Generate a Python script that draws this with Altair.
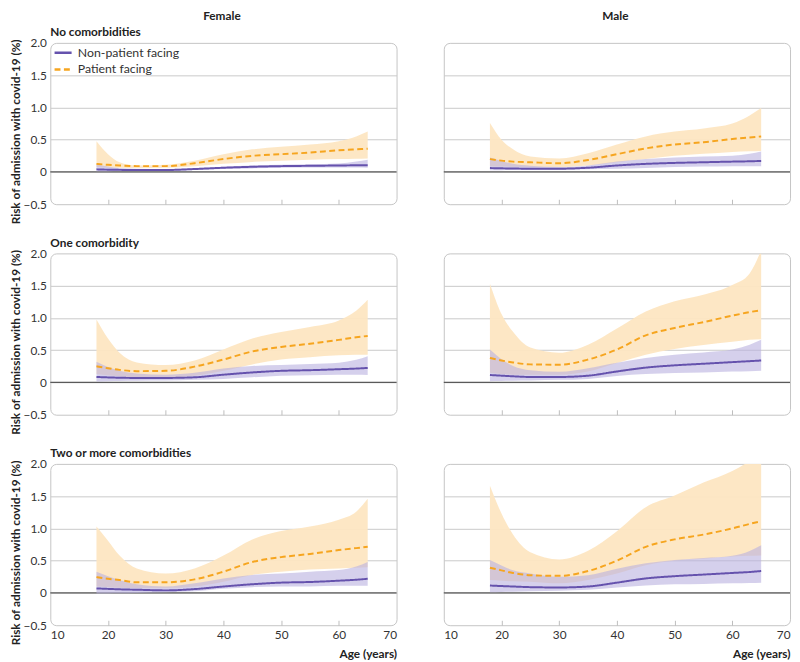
import altair as alt
import pandas as pd

FONT = "Lato"
W, H = 352, 164

ages = [18, 20, 22, 25, 30, 35, 40, 45, 50, 55, 60, 63, 65]
sexes = ["Female", "Male"]
row_titles = ["No comorbidities", "One comorbidity", "Two or more comorbidities"]
groups = ["Non-patient facing", "Patient facing"]
x_ticks = [10, 20, 30, 40, 50, 60, 70]
y_ticks = [-0.5, 0, 0.5, 1.0, 1.5, 2.0]
y_title = "Risk of admission with covid-19 (%)"

# ---- Female, no comorbidities
f0_pf_mid = [0.125, 0.11, 0.10, 0.09, 0.09, 0.135, 0.2, 0.25, 0.275, 0.30, 0.335, 0.35, 0.36]
f0_pf_hi = [0.475, 0.275, 0.15, 0.10, 0.11, 0.175, 0.275, 0.35, 0.39, 0.425, 0.475, 0.55, 0.625]
f0_pf_lo = [0.075, 0.07, 0.065, 0.06, 0.065, 0.09, 0.125, 0.155, 0.175, 0.19, 0.2, 0.205, 0.21]
f0_np_mid = [0.04, 0.035, 0.032, 0.03, 0.03, 0.045, 0.065, 0.08, 0.09, 0.095, 0.10, 0.103, 0.105]
f0_np_hi = [0.12, 0.085, 0.06, 0.05, 0.045, 0.06, 0.08, 0.10, 0.11, 0.12, 0.13, 0.16, 0.19]
f0_np_lo = [0.01, 0.012, 0.013, 0.014, 0.015, 0.03, 0.045, 0.055, 0.065, 0.068, 0.07, 0.068, 0.065]
# ---- Male, no comorbidities
m0_pf_mid = [0.2, 0.175, 0.16, 0.15, 0.135, 0.185, 0.275, 0.365, 0.425, 0.46, 0.51, 0.535, 0.55]
m0_pf_hi = [0.76, 0.5, 0.35, 0.24, 0.21, 0.29, 0.425, 0.55, 0.625, 0.675, 0.75, 0.875, 0.99]
m0_pf_lo = [0.09, 0.085, 0.08, 0.075, 0.075, 0.1, 0.15, 0.2, 0.25, 0.28, 0.31, 0.32, 0.325]
m0_np_mid = [0.06, 0.056, 0.053, 0.05, 0.05, 0.065, 0.1, 0.125, 0.14, 0.15, 0.16, 0.165, 0.17]
m0_np_hi = [0.225, 0.17, 0.125, 0.095, 0.075, 0.1, 0.16, 0.2, 0.225, 0.24, 0.25, 0.28, 0.315]
m0_np_lo = [0.025, 0.028, 0.03, 0.033, 0.035, 0.04, 0.05, 0.062, 0.075, 0.083, 0.09, 0.09, 0.09]
# ---- Female, one comorbidity
f1_pf_mid = [0.25, 0.22, 0.195, 0.175, 0.18, 0.245, 0.355, 0.48, 0.55, 0.6, 0.66, 0.7, 0.72]
f1_pf_hi = [0.975, 0.68, 0.46, 0.31, 0.27, 0.34, 0.51, 0.68, 0.78, 0.86, 0.96, 1.11, 1.28]
f1_pf_lo = [0.13, 0.11, 0.095, 0.08, 0.08, 0.105, 0.18, 0.28, 0.355, 0.39, 0.42, 0.428, 0.43]
f1_np_mid = [0.085, 0.078, 0.073, 0.07, 0.07, 0.08, 0.12, 0.155, 0.18, 0.19, 0.205, 0.215, 0.225]
f1_np_hi = [0.32, 0.24, 0.18, 0.14, 0.12, 0.15, 0.215, 0.255, 0.27, 0.285, 0.305, 0.35, 0.405]
f1_np_lo = [0.015, 0.02, 0.024, 0.027, 0.03, 0.04, 0.055, 0.08, 0.105, 0.113, 0.12, 0.118, 0.115]
# ---- Male, one comorbidity
m1_pf_mid = [0.38, 0.34, 0.31, 0.28, 0.275, 0.355, 0.51, 0.73, 0.845, 0.935, 1.035, 1.09, 1.12]
m1_pf_hi = [1.53, 1.06, 0.785, 0.54, 0.46, 0.585, 0.835, 1.1, 1.26, 1.36, 1.51, 1.69, 2.05]
m1_pf_lo = [0.15, 0.13, 0.12, 0.12, 0.12, 0.17, 0.3, 0.43, 0.52, 0.58, 0.63, 0.66, 0.67]
m1_np_mid = [0.115, 0.105, 0.095, 0.085, 0.085, 0.105, 0.17, 0.23, 0.265, 0.29, 0.315, 0.33, 0.34]
m1_np_hi = [0.51, 0.36, 0.255, 0.19, 0.165, 0.22, 0.305, 0.38, 0.43, 0.465, 0.51, 0.585, 0.66]
m1_np_lo = [0.02, 0.024, 0.027, 0.03, 0.04, 0.055, 0.1, 0.13, 0.145, 0.155, 0.17, 0.175, 0.18]
# ---- Female, two or more comorbidities
f2_pf_mid = [0.245, 0.22, 0.2, 0.165, 0.165, 0.21, 0.33, 0.48, 0.555, 0.605, 0.665, 0.695, 0.715]
f2_pf_hi = [1.03, 0.81, 0.58, 0.38, 0.30, 0.38, 0.58, 0.83, 0.96, 1.03, 1.135, 1.26, 1.46]
f2_pf_lo = [0.1, 0.09, 0.08, 0.075, 0.075, 0.1, 0.175, 0.28, 0.33, 0.365, 0.38, 0.39, 0.4]
f2_np_mid = [0.07, 0.063, 0.056, 0.05, 0.04, 0.06, 0.1, 0.135, 0.16, 0.17, 0.19, 0.205, 0.22]
f2_np_hi = [0.33, 0.26, 0.2, 0.135, 0.1, 0.15, 0.225, 0.28, 0.3, 0.33, 0.355, 0.41, 0.48]
f2_np_lo = [-0.01, -0.007, -0.004, 0.0, 0.01, 0.025, 0.065, 0.09, 0.1, 0.1, 0.11, 0.11, 0.11]
# ---- Male, two or more comorbidities
m2_pf_mid = [0.39, 0.35, 0.31, 0.275, 0.265, 0.34, 0.5, 0.715, 0.83, 0.905, 1.0, 1.07, 1.11]
m2_pf_hi = [1.66, 1.23, 0.905, 0.63, 0.52, 0.655, 0.955, 1.33, 1.51, 1.71, 1.89, 2.05, 2.2]
m2_pf_lo = [0.2, 0.19, 0.18, 0.175, 0.15, 0.2, 0.3, 0.43, 0.5, 0.53, 0.565, 0.575, 0.58]
m2_np_mid = [0.115, 0.107, 0.1, 0.09, 0.085, 0.1, 0.16, 0.225, 0.26, 0.285, 0.31, 0.325, 0.34]
m2_np_hi = [0.51, 0.425, 0.35, 0.3, 0.25, 0.275, 0.375, 0.46, 0.51, 0.54, 0.575, 0.65, 0.74]
m2_np_lo = [0.01, 0.015, 0.02, 0.025, 0.035, 0.05, 0.085, 0.115, 0.135, 0.14, 0.15, 0.155, 0.16]

series = {
    ("Female", 0): (f0_np_mid, f0_np_lo, f0_np_hi, f0_pf_mid, f0_pf_lo, f0_pf_hi),
    ("Male", 0): (m0_np_mid, m0_np_lo, m0_np_hi, m0_pf_mid, m0_pf_lo, m0_pf_hi),
    ("Female", 1): (f1_np_mid, f1_np_lo, f1_np_hi, f1_pf_mid, f1_pf_lo, f1_pf_hi),
    ("Male", 1): (m1_np_mid, m1_np_lo, m1_np_hi, m1_pf_mid, m1_pf_lo, m1_pf_hi),
    ("Female", 2): (f2_np_mid, f2_np_lo, f2_np_hi, f2_pf_mid, f2_pf_lo, f2_pf_hi),
    ("Male", 2): (m2_np_mid, m2_np_lo, m2_np_hi, m2_pf_mid, m2_pf_lo, m2_pf_hi),
}

PURPLE = "#6552ad"
ORANGE = "#f6a51f"
BAND_PU = "#b9b0e0"
BAND_OR = "#fde6c2"
GRID = "#c9c9c9"
TXT = "#222222"

color_scale = alt.Scale(domain=groups, range=[PURPLE, ORANGE])
dash_scale = alt.Scale(domain=groups, range=[[1, 0], [6, 3.5]])
x_scale = alt.Scale(domain=[10, 70], nice=False, zero=False)
y_scale = alt.Scale(domain=[-0.5, 2.0], nice=False)

hide_edges_grid = {"condition": {"test": "datum.value == 2 || datum.value == -0.5", "value": 0}, "value": 1}
hide_edges_tick = {"condition": {"test": "datum.value == 10 || datum.value == 70", "value": 0}, "value": 1}


def make_df(sex, r):
    np_mid, np_lo, np_hi, pf_mid, pf_lo, pf_hi = series[(sex, r)]
    rows = []
    for i, a in enumerate(ages):
        rows.append({"age": a, "group": groups[0], "mid": np_mid[i], "lo": np_lo[i], "hi": np_hi[i]})
    for i, a in enumerate(ages):
        rows.append({"age": a, "group": groups[1], "mid": pf_mid[i], "lo": pf_lo[i], "hi": pf_hi[i]})
    return pd.DataFrame(rows)


def panel(sex, r):
    left = sex == "Female"
    bottom = r == 2
    d = make_df(sex, r)

    # identical axis in both columns (invisible on the right) so every row lines up
    yaxis = alt.Axis(values=y_ticks, grid=True, gridColor=GRID, gridOpacity=hide_edges_grid,
                     ticks=False, domain=False, labelOverlap=False,
                     labelExpr="datum.value == 0 ? '0' : format(datum.value, '.1f')",
                     labelFontSize=12, labelColor="#333333", labelPadding=4,
                     labelOpacity=1 if left else 0,
                     title=y_title, titleFontSize=12, titleFontWeight="bold", titleColor=TXT,
                     titleOpacity=1 if left else 0, titlePadding=1, titleY=H / 2 + 8)

    common_x = dict(values=x_ticks, grid=False, domain=False, ticks=True, tickSize=5,
                    tickColor="#bdbdbd", tickOpacity=hide_edges_tick, offset=-5, labelOverlap=False)
    if bottom:
        xaxis = alt.Axis(labelFontSize=12, labelColor="#333333", labelPadding=5,
                         title="Age (years)", titleAnchor="end", titleFontSize=12,
                         titleFontWeight="bold", titleColor=TXT, titlePadding=8, **common_x)
    else:
        xaxis = alt.Axis(labels=False, title=None, **common_x)

    x = alt.X("age:Q", scale=x_scale, axis=xaxis)
    base = alt.Chart(d)

    zero = alt.Chart(pd.DataFrame({"z": [0]})).mark_rule(color="#5a5a5a", strokeWidth=1.3).encode(
        y=alt.Y("z:Q", scale=y_scale, axis=yaxis)
    )
    band_pf = base.transform_filter(alt.datum.group == groups[1]).mark_area(
        clip=True, interpolate="monotone", color=BAND_OR, opacity=0.95
    ).encode(x=x, y=alt.Y("lo:Q", scale=y_scale, axis=yaxis), y2="hi:Q")
    band_np = base.transform_filter(alt.datum.group == groups[0]).mark_area(
        clip=True, interpolate="monotone", color=BAND_PU, opacity=0.6
    ).encode(x=x, y=alt.Y("lo:Q", scale=y_scale, axis=yaxis), y2="hi:Q")

    if left and r == 0:
        leg = alt.Legend(title=None, orient="none", legendX=3, legendY=0, symbolType="stroke",
                         symbolStrokeWidth=2.5, symbolSize=300, labelFontSize=12.5,
                         labelColor="#333333", rowPadding=0, padding=0, labelOffset=5)
    else:
        leg = None

    lines = base.mark_line(clip=True, interpolate="monotone", strokeWidth=2).encode(
        x=x,
        y=alt.Y("mid:Q", scale=y_scale, axis=yaxis),
        color=alt.Color("group:N", scale=color_scale, legend=leg),
        strokeDash=alt.StrokeDash("group:N", scale=dash_scale, legend=leg),
    )

    title = alt.TitleParams(row_titles[r] if left else " ", anchor="start", frame="group",
                            fontSize=12, fontWeight="bold", color=TXT, offset=-2)
    return alt.layer(zero, band_pf, band_np, lines).properties(width=W, height=H, title=title)


cols = []
for sex in sexes:
    col = alt.vconcat(*[panel(sex, r) for r in range(3)], spacing=11).properties(
        title=alt.TitleParams(sex, anchor="middle", frame="bounds", dx=19, fontSize=12,
                              fontWeight="bold", color=TXT, offset=3)
    ).resolve_scale(color="independent", strokeDash="independent")
    cols.append(col)

chart = alt.hconcat(*cols, spacing=3).resolve_scale(
    color="independent", strokeDash="independent"
).properties(
    padding={"left": 0, "top": -4, "right": 0, "bottom": 0}
).configure(font=FONT).configure_axis(labelOverlap=False).configure_view(
    stroke="#c4c4c4", strokeWidth=1, cornerRadius=6
)

chart.save("out.html", embed_options={"renderer": "svg", "actions": False})
